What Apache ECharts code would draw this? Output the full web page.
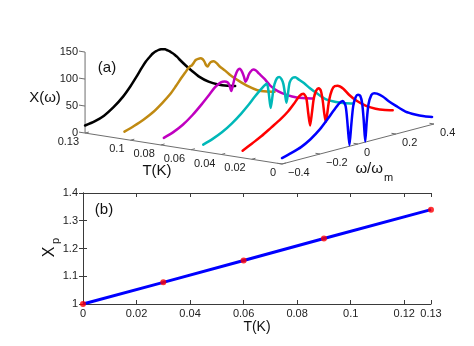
<!DOCTYPE html>
<html><head><meta charset="utf-8">
<script src="https://cdn.jsdelivr.net/npm/echarts@6/dist/echarts.min.js"></script>
<style>html,body{margin:0;padding:0;background:#fff}#c{width:474px;height:346px}</style>
</head><body><div id="c"></div>
<script>
// ---------- data: panel (a) ----------
const omega = [-0.4,-0.35,-0.3,-0.25,-0.2,-0.16,-0.13,-0.1,-0.08,-0.065,-0.055,-0.045,-0.035,-0.025,-0.012,0,0.012,0.022,0.03,0.038,0.046,0.055,0.07,0.085,0.1,0.13,0.16,0.2,0.25,0.3,0.35,0.39];
const temps = [0.13, 0.104, 0.078, 0.052, 0.026, 0];
const chiBlack   = [14,17,23,34,49,65,79,94,103,108,111,114,116,117,118,118,117,116,114,112,110,107,102,96,89,76,64,49,35,25,18,14];
const chiBrown   = [14,20,27,36,49,61,73,86,94,100,103,104,108,112,113,113,110,104,97,94,98,101,101,96,89,78,66,53,38,26,19,15];
const chiMagenta = [14,20,29,42,58,72,83,89,89,86,80,68,80,93,103,105,98,88,78,82,89,94,97,94,87,74,59,45,33,24,18,14];
const chiCyan    = [13,19,27,38,52,65,76,86,92,95,76,48,70,90,100,101,96,86,68,50,66,86,93,93,88,78,66,52,36,27,20,16];
const chiRed     = [13,22,31,42,53,64,75,87,89,80,52,27,50,76,89,92,86,66,42,26,42,64,82,88,87,79,65,50,36,26,19,15];
const chiBlue    = [11,16,22,32,46,61,73,84,87,76,42,2,40,73,88,91,88,73,42,1,38,68,84,86,84,76,65,52,37,27,19,14];
const chiTicks = [0, 50, 100, 150];
const tTicks = [0.13, 0.1, 0.08, 0.06, 0.04, 0.02, 0];
const tTickLabels = ['0.13','0.1','0.08','0.06','0.04','0.02','0'];
const wTicks = [-0.4, -0.2, 0, 0.2, 0.4];
const wTickLabels = ['\u22120.4','\u22120.2','0','0.2','0.4'];

// ---------- data: panel (b) ----------
const tempB = [0, 0.03, 0.06, 0.09, 0.13];
const xpB = [1, 1.078, 1.157, 1.236, 1.34];
const tbTicks = [0, 0.02, 0.04, 0.06, 0.08, 0.1, 0.12, 0.13];

// ---------- oblique 3D projection (view setup) ----------
const W_PX = 190, X_PX = 0.54, T_PX_X = 1515, T_PX_Y = 238, W_PX_Y = 50;
const OX = 282, OY = 164, W0 = -0.4;
function proj(w, T, X) {
  return [w - T * T_PX_X / W_PX, X + (w - W0) * W_PX_Y / X_PX + T * T_PX_Y / X_PX];
}
const curves = [chiBlack, chiBrown, chiMagenta, chiCyan, chiRed, chiBlue];
const colors = ['#000000', '#c08a12', '#c000c0', '#00b8b8', '#ff0000', '#0000ff'];
const FONT = 'Liberation Sans, Arial, Helvetica, sans-serif';

const segs = [];
function seg(a, b) { const p = proj(...a), q = proj(...b); segs.push([p[0], p[1], q[0], q[1]]); }
const Tmax = temps[0], Wmax = 0.4;
seg([W0, Tmax, 0], [W0, Tmax, 150]);
seg([W0, Tmax, 0], [W0, 0, 0]);
seg([W0, 0, 0], [Wmax, 0, 0]);
chiTicks.forEach(z => seg([W0, Tmax, z], [W0, Tmax + 0.004, z]));
tTicks.forEach(t => seg([W0, t, 0], [W0 + 0.02, t, 0]));
wTicks.forEach(w => seg([w, 0, 0], [w, 0.003, 0]));

const labelItems = [];
chiTicks.forEach(z => { const p = proj(W0, Tmax, z); labelItems.push({ p, text: String(z), align: 'right', dx: -7, dy: 0 }); });
tTicks.forEach((t, i) => { const p = proj(W0, t, 0); labelItems.push({ p, text: tTickLabels[i], align: 'right', dx: -6, dy: 9 }); });
wTicks.forEach((w, i) => { const p = proj(w, 0, 0); labelItems.push({ p, text: wTickLabels[i], align: 'left', dx: 6, dy: 9 }); });

const series = [];
series.push({
  type: 'custom', xAxisIndex: 0, yAxisIndex: 0, silent: true, z: 1,
  data: segs, encode: { x: [0, 2], y: [1, 3] },
  renderItem: (params, api) => {
    const a = api.coord([api.value(0), api.value(1)]);
    const b = api.coord([api.value(2), api.value(3)]);
    return { type: 'line', shape: { x1: a[0], y1: a[1], x2: b[0], y2: b[1] }, style: { stroke: '#6e6e6e', lineWidth: 1 } };
  }
});
series.push({
  type: 'custom', xAxisIndex: 0, yAxisIndex: 0, silent: true, z: 2,
  data: labelItems.map(l => l.p), encode: { x: 0, y: 1 },
  renderItem: (params, api) => {
    const l = labelItems[params.dataIndex];
    const a = api.coord([api.value(0), api.value(1)]);
    return { type: 'text', x: a[0] + l.dx, y: a[1] + l.dy,
      style: { text: l.text, fill: '#222', font: '11px ' + FONT, align: l.align, verticalAlign: 'middle' } };
  }
});
curves.forEach((arr, k) => {
  series.push({
    type: 'line', xAxisIndex: 0, yAxisIndex: 0, z: 3 + k,
    data: omega.map((w, i) => proj(w, temps[k], arr[i])),
    showSymbol: false, smooth: 0.25,
    lineStyle: { color: colors[k], width: 2.5, join: 'round', cap: 'round' }, silent: true
  });
});
series.push({
  type: 'line', xAxisIndex: 1, yAxisIndex: 1, data: tempB.map((t, i) => [t, xpB[i]]),
  showSymbol: false, lineStyle: { color: '#0000ff', width: 3 }, silent: true, z: 3
});
series.push({
  type: 'scatter', xAxisIndex: 1, yAxisIndex: 1, data: tempB.map((t, i) => [t, xpB[i]]),
  symbolSize: 6, itemStyle: { color: '#ff0000' }, silent: true, z: 4
});

const frame = '#3a3a3a';
const chart = echarts.init(document.getElementById('c'), null, { renderer: 'canvas' });
chart.setOption({
  animation: false,
  backgroundColor: '#fff',
  textStyle: { fontFamily: FONT },
  grid: [
    { left: 0, top: 0, width: 474, height: 190, containLabel: false, outerBoundsMode: 'none' },
    { left: 83, top: 193, width: 348, height: 111, containLabel: false, outerBoundsMode: 'none' }
  ],
  xAxis: [
    { gridIndex: 0, type: 'value', show: false, min: W0 - OX / W_PX, max: W0 + (474 - OX) / W_PX },
    { gridIndex: 1, type: 'value', min: 0, max: 0.13, position: 'bottom',
      axisLine: { lineStyle: { color: frame, width: 1 } },
      axisTick: { inside: true, length: 4, customValues: tbTicks, lineStyle: { color: frame } },
      axisLabel: { customValues: tbTicks, fontSize: 11, color: '#222', margin: 4, fontFamily: FONT },
      splitLine: { show: false },
      name: 'T(K)', nameLocation: 'middle', nameGap: 15,
      nameTextStyle: { fontSize: 14, color: '#111', fontFamily: FONT } },
    { gridIndex: 1, type: 'value', min: 0, max: 0.13, position: 'top',
      axisLine: { lineStyle: { color: frame, width: 1 } },
      axisTick: { inside: true, length: 4, customValues: tbTicks, lineStyle: { color: frame } },
      axisLabel: { show: false }, splitLine: { show: false } }
  ],
  yAxis: [
    { gridIndex: 0, type: 'value', show: false, min: (OY - 190) / X_PX, max: OY / X_PX },
    { gridIndex: 1, type: 'value', min: 1, max: 1.4, interval: 0.1, position: 'left',
      axisLine: { show: true, lineStyle: { color: frame, width: 1 } },
      axisTick: { show: true, inside: true, length: 4, lineStyle: { color: frame } },
      axisLabel: { fontSize: 11, color: '#222', margin: 5, fontFamily: FONT },
      splitLine: { show: false } },
    { gridIndex: 1, type: 'value', min: 1, max: 1.4, interval: 0.1, position: 'right',
      axisLine: { show: true, lineStyle: { color: frame, width: 1 } },
      axisTick: { show: true, inside: true, length: 4, lineStyle: { color: frame } },
      axisLabel: { show: false }, splitLine: { show: false } }
  ],
  graphic: [
    { type: 'text', x: 107, y: 68, style: { text: '(a)', font: '15px ' + FONT, fill: '#111', align: 'center', verticalAlign: 'middle' } },
    { type: 'text', x: 45, y: 98, style: { text: 'X(\u03c9)', font: '15px ' + FONT, fill: '#111', align: 'center', verticalAlign: 'middle' } },
    { type: 'text', x: 157, y: 171, style: { text: 'T(K)', font: '15px ' + FONT, fill: '#111', align: 'center', verticalAlign: 'middle' } },
    { type: 'text', x: 383, y: 169, style: { text: '\u03c9/\u03c9', font: '15px ' + FONT, fill: '#111', align: 'right', verticalAlign: 'middle' } },
    { type: 'text', x: 384, y: 178, style: { text: 'm', font: '11px ' + FONT, fill: '#111', align: 'left', verticalAlign: 'middle' } },
    { type: 'text', x: 104, y: 210, style: { text: '(b)', font: '15px ' + FONT, fill: '#111', align: 'center', verticalAlign: 'middle' } },
    { type: 'text', x: 50, y: 252, rotation: Math.PI / 2, style: { text: 'X', font: '16px ' + FONT, fill: '#111', align: 'center', verticalAlign: 'middle' } },
    { type: 'text', x: 56, y: 241, rotation: Math.PI / 2, style: { text: 'p', font: '11px ' + FONT, fill: '#111', align: 'center', verticalAlign: 'middle' } }
  ],
  series
});
</script>
</body></html>
